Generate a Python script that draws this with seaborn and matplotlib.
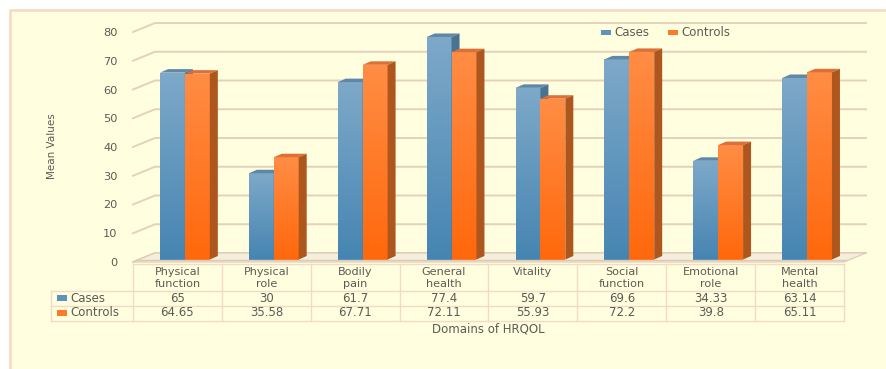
import numpy as np
import pandas as pd
import matplotlib
matplotlib.use("Agg")
import matplotlib.pyplot as plt
import seaborn as sns
from matplotlib.transforms import IdentityTransform, offset_copy
from matplotlib.patches import Rectangle, Polygon
from matplotlib.lines import Line2D
from matplotlib.colors import LinearSegmentedColormap

# ---- data -------------------------------------------------------------
domains = ["Physical\nfunction", "Physical\nrole", "Bodily\npain", "General\nhealth",
           "Vitality", "Social\nfunction", "Emotional\nrole", "Mental\nhealth"]
cases = [65, 30, 61.7, 77.4, 59.7, 69.6, 34.33, 63.14]
controls = [64.65, 35.58, 67.71, 72.11, 55.93, 72.2, 39.8, 65.11]
groups = ["Cases", "Controls"]
y_ticks = [0, 10, 20, 30, 40, 50, 60, 70, 80]
x_title = "Domains of HRQOL"
y_title = "Mean Values"

df = pd.DataFrame({
    "Domain": domains * 2,
    "Group": [groups[0]] * len(domains) + [groups[1]] * len(domains),
    "Value": cases + controls,
})

# ---- styling ------------------------------------------------------------
W, H = 887, 369
TEXT = "#5E5A55"
GRID = "#E6D0B9"
TABLE_LINE = "#F5D8C6"
base_colors = ["#5B93BD", "#FF7A28"]
front_cmaps = [
    LinearSegmentedColormap.from_list("blue_face", ["#4685B2", "#7EA9C9"]),
    LinearSegmentedColormap.from_list("orange_face", ["#FF680C", "#FF8D45"]),
]
top_colors = ["#5F88A8", "#DC7038"]
side_colors = ["#4A7391", "#AD561E"]
DEPTH = (22, 9)      # back wall offset in pixels
FRONT = (7.5, 2.5)   # bar front-face offset in pixels
BAR_D = (8, 3.5)     # bar depth in pixels

PX = IdentityTransform()


def P(x, y):
    """Pixel position measured from the top-left corner -> display coords."""
    return (x, H - y)


fig = plt.figure(figsize=(W / 100, H / 100), dpi=100, facecolor="white")

# panel behind the chart
panel = Rectangle((9.5, -5), W, H - 9.5 + 5, transform=PX, facecolor="#FFFFE0",
                  edgecolor="#F5DCC0", linewidth=1.9, zorder=-5)
fig.add_artist(panel)

ax = fig.add_axes([133 / W, (H - 262) / H, (844 - 133) / W, (262 - 32) / H])
ax.set_facecolor("none")

sns.barplot(data=df, x="Domain", y="Value", hue="Group", palette=base_colors,
            width=0.56, saturation=1, legend=False, errorbar=None, ax=ax)

ax.set_xlim(-0.5, len(domains) - 0.5)
ax.set_ylim(0, 80)
for s in ax.spines.values():
    s.set_visible(False)
ax.set_xticks([])
ax.set_yticks(y_ticks)
ax.tick_params(axis="y", length=0, pad=11, labelsize=8.2, labelcolor=TEXT)
ax.set_xlabel("")
ax.set_ylabel("")

# ---- back wall gridlines and floor ---------------------------------------
x_lo, x_hi = -0.5, len(domains) - 0.5
for v in y_ticks:
    fx, fy = ax.transData.transform((x_lo, v))
    rx, ry = ax.transData.transform((x_hi, v))
    ax.add_line(Line2D([fx, fx + DEPTH[0], rx + DEPTH[0]],
                       [fy, fy + DEPTH[1], ry + DEPTH[1]],
                       transform=PX, color=GRID, lw=1.4, clip_on=False, zorder=1))

fl = ax.transData.transform((x_lo, 0))
fr = ax.transData.transform((x_hi, 0))
floor = Polygon([fl, fr, (fr[0] + DEPTH[0], fr[1] + DEPTH[1]),
                 (fl[0] + DEPTH[0], fl[1] + DEPTH[1])], closed=True,
                transform=PX, facecolor="#F5EEDC", edgecolor="#DCCAB2",
                lw=0.8, clip_on=False, zorder=1.5)
ax.add_patch(floor)
ax.add_line(Line2D([fl[0] + 3, fr[0] + 3], [fl[1] + 2, fr[1] + 2], transform=PX,
                   color="#D9CBB6", lw=1.0, clip_on=False, zorder=1.6))

# ---- 3-D bars -----------------------------------------------------------
grad = np.linspace(0, 1, 128).reshape(-1, 1)
ftrans = offset_copy(ax.transData, fig=fig, x=FRONT[0], y=FRONT[1], units="dots")
for p in list(ax.patches):
    if not isinstance(p, Rectangle) or p is floor:
        continue
    x0, w, h = p.get_x(), p.get_width(), p.get_height()
    c = x0 + w / 2
    g = 0 if c < round(c) else 1
    z = 3 + g
    p.set_transform(ftrans)
    p.set_edgecolor("none")
    p.set_zorder(z)
    im = ax.imshow(grad, cmap=front_cmaps[g], extent=(x0, x0 + w, 0, h), aspect="auto",
                   origin="lower", transform=ftrans, interpolation="bilinear",
                   zorder=z + 0.01)
    im.set_clip_path(p)
    X0, Y0 = ftrans.transform((x0, 0))
    X1, Y1 = ftrans.transform((x0 + w, h))
    dx, dy = BAR_D
    ax.add_patch(Polygon([(X0, Y1), (X1, Y1), (X1 + dx, Y1 + dy), (X0 + dx, Y1 + dy)],
                         closed=True, transform=PX, facecolor=top_colors[g],
                         edgecolor="none", clip_on=False, zorder=z + 0.02))
    ax.add_patch(Polygon([(X1, Y0), (X1 + dx, Y0 + dy), (X1 + dx, Y1 + dy), (X1, Y1)],
                         closed=True, transform=PX, facecolor=side_colors[g],
                         edgecolor="none", clip_on=False, zorder=z + 0.02))

ax.set_xlim(x_lo, x_hi)
ax.set_ylim(0, 80)

# ---- data table -----------------------------------------------------------
xs = [ax.transData.transform((i - 0.5, 0))[0] for i in range(len(domains) + 1)]
t0, t1, t2, t3 = 264, 290.5, 305.5, 320.5
left = 51


def hline(y, xa, xb):
    fig.add_artist(Line2D([xa, xb], [H - y, H - y], transform=PX,
                          color=TABLE_LINE, lw=1.0))


def vline(x, ya, yb):
    fig.add_artist(Line2D([x, x], [H - ya, H - yb], transform=PX,
                          color=TABLE_LINE, lw=1.0))


hline(t0, xs[0], xs[-1])
for y in (t1, t2, t3):
    hline(y, left, xs[-1])
vline(left, t1, t3)
for x in xs:
    vline(x, t0, t3)

fs = 8.5
for i, name in enumerate(domains):
    cx = (xs[i] + xs[i + 1]) / 2
    for k, line in enumerate(name.split("\n")):
        fig.text(*P(cx, 272 + 12 * k), line, transform=PX, ha="center",
                 va="center", fontsize=8.1, color=TEXT)
    fig.text(*P(cx, 298), f"{cases[i]:g}", transform=PX, ha="center",
             va="center", fontsize=fs, color=TEXT)
    fig.text(*P(cx, 313), f"{controls[i]:g}", transform=PX, ha="center",
             va="center", fontsize=fs, color=TEXT)

for g, (name, ry) in enumerate(zip(groups, (298, 313))):
    fig.add_artist(Rectangle(P(57, ry + 2.5), 9.5, 5.5, transform=PX,
                             facecolor=base_colors[g], edgecolor="none"))
    fig.text(*P(70, ry), name, transform=PX, ha="left", va="center",
             fontsize=fs, color=TEXT)

# ---- legend at the top ------------------------------------------------------
for g, (sx, tx) in enumerate(((601, 614), (668, 681))):
    fig.add_artist(Rectangle(P(sx, 35), 9.5, 5.5, transform=PX,
                             facecolor=base_colors[g], edgecolor="none"))
    fig.text(*P(tx, 32.5), groups[g], transform=PX, ha="left", va="center",
             fontsize=fs, color=TEXT)

# ---- axis titles ------------------------------------------------------------
fig.text(*P(488, 329), x_title, transform=PX, ha="center", va="center",
         fontsize=fs, color=TEXT)
fig.text(*P(52, 146), y_title, transform=PX, ha="center", va="center",
         rotation=90, fontsize=7.5, color=TEXT,
         family=["Liberation Sans Narrow", "DejaVu Sans"])

fig.savefig("out.png", dpi=100, facecolor="white")
